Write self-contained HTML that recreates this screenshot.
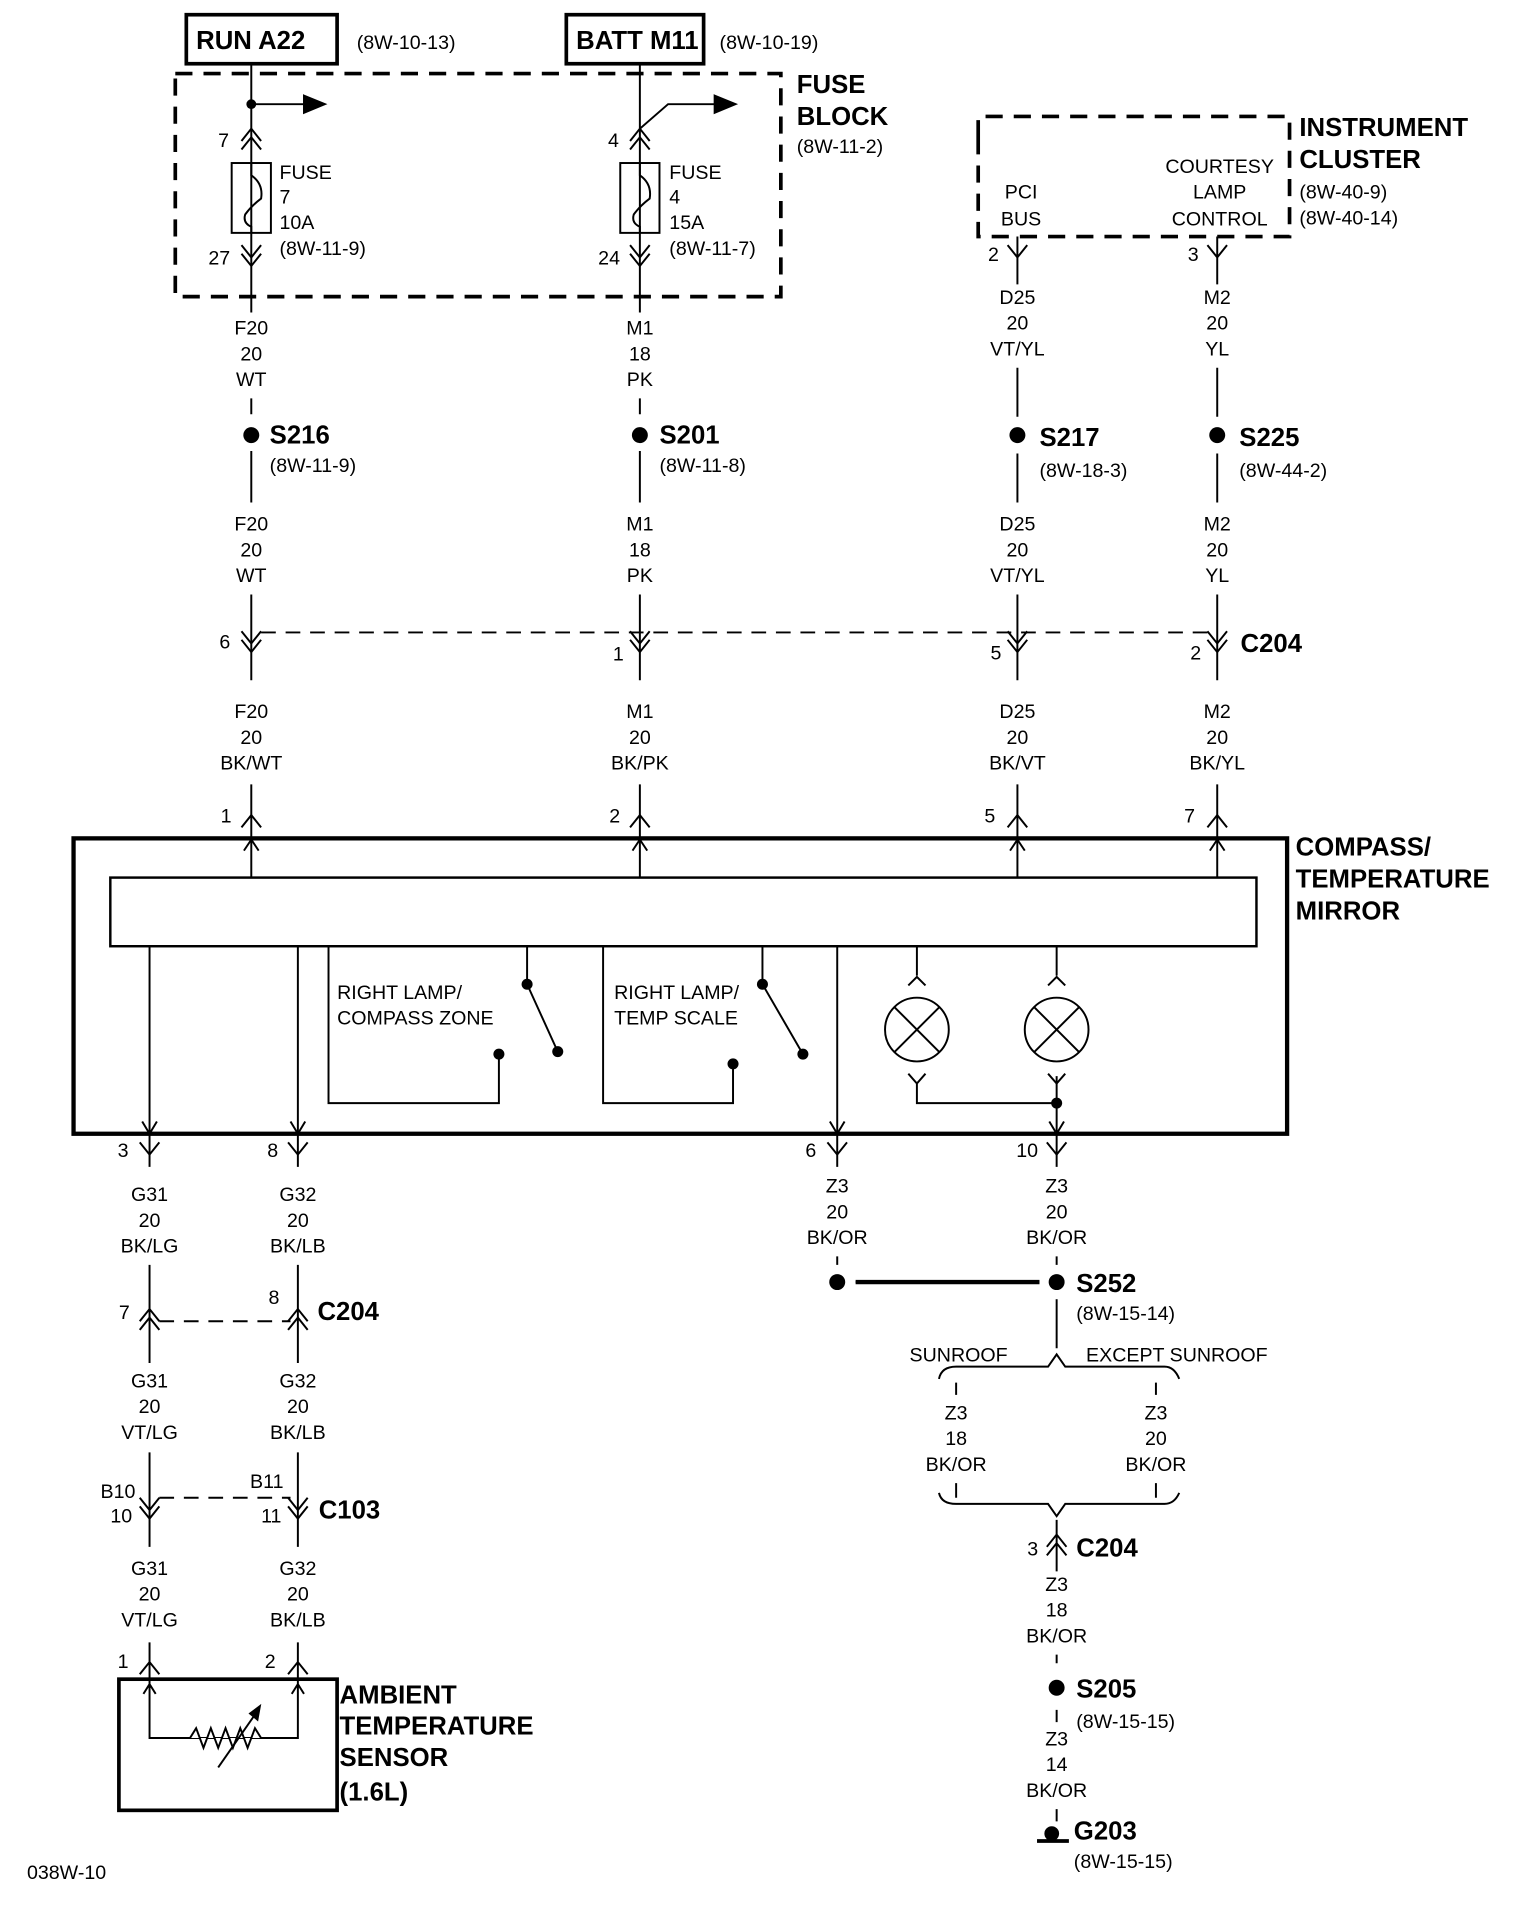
<!DOCTYPE html>
<html><head><meta charset="utf-8"><style>
html,body{margin:0;padding:0;background:#fff}
svg{display:block}
text{font-family:"Liberation Sans Narrow","Liberation Sans",sans-serif;font-size:16px;fill:#000}
.m{text-anchor:middle}
.b{font-weight:bold;font-size:21px}
</style></head><body>
<svg width="1520" height="1928" viewBox="0 0 1240 1573" preserveAspectRatio="none" xmlns="http://www.w3.org/2000/svg">
<g stroke="#000" stroke-width="1.6" fill="none">
<!-- top boxes -->
<rect x="152" y="12" width="123" height="40" stroke-width="3"/>
<rect x="462" y="12" width="112" height="40" stroke-width="3"/>
<rect x="143" y="60" width="494" height="182" stroke-width="3" stroke-dasharray="14,9"/>
<path d="M798 112 V95 H1052 V193 H798 V112" stroke-width="3" stroke-dasharray="14,9"/>
<!-- column A -->
<path d="M205 52 V255"/>
<path d="M205 85 H250"/><path d="M248 78 L265 85 L248 92 Z" fill="#000"/>
<path d="M197 115 L205 105 L213 115 M197 122 L205 112 L213 122"/>
<rect x="189" y="133" width="32" height="57"/>
<path d="M205 133 V143 Q215 150 213 162 Q205 168 200 175 Q198 182 205 185 V190"/>
<path d="M197 200 L205 210 L213 200 M197 207 L205 217 L213 207"/>
<!-- column B -->
<path d="M522 52 V105 L545 85 H585 M522 105 V255"/><path d="M583 78 L600 85 L583 92 Z" fill="#000"/>
<path d="M514 115 L522 105 L530 115 M514 122 L522 112 L530 122"/>
<rect x="506" y="133" width="32" height="57"/>
<path d="M522 133 V143 Q532 150 530 162 Q522 168 517 175 Q515 182 522 185 V190"/>
<path d="M514 200 L522 210 L530 200 M514 207 L522 217 L530 207"/>
<!-- ticks & splices top -->
<path d="M205 325 V338 M522 325 V338 M205 368 V410 M522 368 V410 M830 300 V340 M993 300 V340 M830 370 V410 M993 370 V410"/>
<path d="M830 193 V232 M822 200 L830 210 L838 200 M993 193 V232 M985 200 L993 210 L1001 200"/>
<!-- C204 row -->
<path d="M205 485 V555 M522 485 V555 M830 485 V555 M993 485 V555"/>
<path d="M197 515 L205 525 L213 515 M197 522 L205 532 L213 522 M514 515 L522 525 L530 515 M514 522 L522 532 L530 522 M822 515 L830 525 L838 515 M822 522 L830 532 L838 522 M985 515 L993 525 L1001 515 M985 522 L993 532 L1001 522"/>
<path d="M213 516 H985" stroke-dasharray="12,8"/>
<!-- to mirror -->
<path d="M205 640 V716 M522 640 V716 M830 640 V716 M993 640 V716"/>
<path d="M197 675 L205 665 L213 675 M514 675 L522 665 L530 675 M822 675 L830 665 L838 675 M985 675 L993 665 L1001 675"/>
<path d="M199 694 L205 685 L211 694 M516 694 L522 685 L528 694 M824 694 L830 685 L836 694 M987 694 L993 685 L999 694"/>
<!-- mirror -->
<rect x="60" y="684" width="990" height="241" stroke-width="3.5"/>
<rect x="90" y="716" width="935" height="56" stroke-width="2"/>
<path d="M122 772 V952 M243 772 V952 M683 772 V952 M862 878 V952"/>
<path d="M116 915 L122 925 L128 915 M237 915 L243 925 L249 915 M677 915 L683 925 L689 915 M856 915 L862 925 L868 915"/>
<path d="M268 772 V900 H407 V860 M430 772 V803 L455 858"/>
<path d="M492 772 V900 H598 V868 M622 772 V803 L655 860"/>
<path d="M748 772 V796 M862 772 V796 M741 804 L748 797 L755 804 M855 804 L862 797 L869 804"/>
<circle cx="748" cy="840" r="26"/><circle cx="862" cy="840" r="26"/>
<path d="M730 822 L766 858 M766 822 L730 858 M844 822 L880 858 M880 822 L844 858"/>
<path d="M741 876 L748 884 L755 876 M855 876 L862 884 L869 876 M748 884 V900 H862"/>
<!-- bottom connectors -->
<path d="M114 932 L122 942 L130 932 M235 932 L243 942 L251 932 M675 932 L683 942 L691 932 M854 932 L862 942 L870 932"/>
<path d="M122 1032 V1112 M243 1032 V1112"/>
<path d="M114 1078 L122 1068 L130 1078 M114 1085 L122 1075 L130 1085 M235 1078 L243 1068 L251 1078 M235 1085 L243 1075 L251 1085"/>
<path d="M130 1078 H237" stroke-dasharray="12,8"/>
<path d="M122 1185 V1262 M243 1185 V1262"/>
<path d="M114 1222 L122 1232 L130 1222 M114 1229 L122 1239 L130 1229 M235 1222 L243 1232 L251 1222 M235 1229 L243 1239 L251 1229"/>
<path d="M130 1222 H237" stroke-dasharray="12,8"/>
<path d="M122 1340 V1418 H243 V1340 M114 1366 L122 1356 L130 1366 M235 1366 L243 1356 L251 1366 M117 1382 L122 1374 L127 1382 M238 1382 L243 1374 L248 1382"/>
<path d="M122 1418 H155 L160 1410 L166 1426 L172 1410 L178 1426 L184 1410 L190 1426 L196 1410 L202 1426 L208 1410 L213 1418 H243" fill="#fff"/>
<path d="M122 1418 H155 M213 1418 H243"/>
<path d="M178 1442 L210 1396"/><path d="M204 1398 L212 1392 L210 1403 Z" fill="#000"/>
<rect x="97" y="1370" width="178" height="107" stroke-width="3"/>
<!-- right bottom -->
<path d="M683 1025 V1032 M862 1025 V1032 M698 1046 H848" />
<path d="M698 1046 H848" stroke-width="3.5"/>
<path d="M862 1060 V1100"/>
<path d="M766 1125 Q768 1115 780 1115 H855 L862 1105 L869 1115 H950 Q958 1115 962 1125"/>
<path d="M780 1128 V1138 M943 1128 V1138 M780 1210 V1222 M943 1210 V1222"/>
<path d="M766 1218 Q768 1227 780 1227 H855 L862 1237 L869 1227 H950 Q958 1227 962 1218"/>
<path d="M862 1240 V1282 M854 1262 L862 1252 L870 1262 M854 1269 L862 1259 L870 1269"/>
<path d="M862 1350 V1357 M862 1395 V1405 M862 1476 V1486"/>
<path d="M846 1502 H872" stroke-width="3"/>
</g>
<g fill="#000">
<circle cx="205" cy="85" r="4"/>
<circle cx="205" cy="355" r="6.5"/><circle cx="522" cy="355" r="6.5"/><circle cx="830" cy="355" r="6.5"/><circle cx="993" cy="355" r="6.5"/>
<circle cx="430" cy="803" r="4.5"/><circle cx="455" cy="858" r="4.5"/><circle cx="407" cy="860" r="4.5"/>
<circle cx="622" cy="803" r="4.5"/><circle cx="655" cy="860" r="4.5"/><circle cx="598" cy="868" r="4.5"/>
<circle cx="862" cy="900" r="4.5"/>
<circle cx="683" cy="1046" r="6.5"/><circle cx="862" cy="1046" r="6.5"/>
<circle cx="862" cy="1377" r="6.5"/><circle cx="858" cy="1496" r="6"/>
</g>
<text x="160" y="40" class="b">RUN A22</text><text x="291" y="40">(8W-10-13)</text>
<text x="470" y="40" class="b">BATT M11</text><text x="587" y="40">(8W-10-19)</text>
<text x="650" y="76" class="b">FUSE</text><text x="650" y="102" class="b">BLOCK</text><text x="650" y="125">(8W-11-2)</text>
<text x="178" y="120">7</text><text x="496" y="120">4</text>
<text x="228" y="146">FUSE</text><text x="228" y="166">7</text><text x="228" y="187">10A</text><text x="228" y="208">(8W-11-9)</text>
<text x="546" y="146">FUSE</text><text x="546" y="166">4</text><text x="546" y="187">15A</text><text x="546" y="208">(8W-11-7)</text>
<text x="170" y="216">27</text><text x="488" y="216">24</text>
<text x="1060" y="111" class="b">INSTRUMENT</text><text x="1060" y="137" class="b">CLUSTER</text>
<text x="1060" y="162">(8W-40-9)</text><text x="1060" y="183">(8W-40-14)</text>
<text x="833" y="162" class="m">PCI</text><text x="833" y="184" class="m">BUS</text>
<text x="995" y="141" class="m">COURTESY</text><text x="995" y="162" class="m">LAMP</text><text x="995" y="184" class="m">CONTROL</text>
<text x="806" y="213">2</text><text x="969" y="213">3</text>
<g class="m">
<text x="205" y="273" class="m">F20</text><text x="205" y="294" class="m">20</text><text x="205" y="315" class="m">WT</text>
<text x="522" y="273" class="m">M1</text><text x="522" y="294" class="m">18</text><text x="522" y="315" class="m">PK</text>
<text x="830" y="248" class="m">D25</text><text x="830" y="269" class="m">20</text><text x="830" y="290" class="m">VT/YL</text>
<text x="993" y="248" class="m">M2</text><text x="993" y="269" class="m">20</text><text x="993" y="290" class="m">YL</text>
<text x="205" y="433" class="m">F20</text><text x="205" y="454" class="m">20</text><text x="205" y="475" class="m">WT</text>
<text x="522" y="433" class="m">M1</text><text x="522" y="454" class="m">18</text><text x="522" y="475" class="m">PK</text>
<text x="830" y="433" class="m">D25</text><text x="830" y="454" class="m">20</text><text x="830" y="475" class="m">VT/YL</text>
<text x="993" y="433" class="m">M2</text><text x="993" y="454" class="m">20</text><text x="993" y="475" class="m">YL</text>
<text x="205" y="586" class="m">F20</text><text x="205" y="607" class="m">20</text><text x="205" y="628" class="m">BK/WT</text>
<text x="522" y="586" class="m">M1</text><text x="522" y="607" class="m">20</text><text x="522" y="628" class="m">BK/PK</text>
<text x="830" y="586" class="m">D25</text><text x="830" y="607" class="m">20</text><text x="830" y="628" class="m">BK/VT</text>
<text x="993" y="586" class="m">M2</text><text x="993" y="607" class="m">20</text><text x="993" y="628" class="m">BK/YL</text>
</g>
<text x="220" y="362" class="b">S216</text><text x="220" y="385">(8W-11-9)</text>
<text x="538" y="362" class="b">S201</text><text x="538" y="385">(8W-11-8)</text>
<text x="848" y="364" class="b">S217</text><text x="848" y="389">(8W-18-3)</text>
<text x="1011" y="364" class="b">S225</text><text x="1011" y="389">(8W-44-2)</text>
<text x="179" y="529">6</text><text x="500" y="539">1</text><text x="808" y="538">5</text><text x="971" y="538">2</text>
<text x="1012" y="532" class="b">C204</text>
<text x="180" y="671">1</text><text x="497" y="671">2</text><text x="803" y="671">5</text><text x="966" y="671">7</text>
<text x="1057" y="698" class="b">COMPASS/</text><text x="1057" y="724" class="b">TEMPERATURE</text><text x="1057" y="750" class="b">MIRROR</text>
<text x="275" y="815">RIGHT LAMP/</text><text x="275" y="836">COMPASS ZONE</text>
<text x="501" y="815">RIGHT LAMP/</text><text x="501" y="836">TEMP SCALE</text>
<text x="96" y="944">3</text><text x="218" y="944">8</text><text x="657" y="944">6</text><text x="829" y="944">10</text>
<text x="122" y="980" class="m">G31</text><text x="122" y="1001" class="m">20</text><text x="122" y="1022" class="m">BK/LG</text>
<text x="243" y="980" class="m">G32</text><text x="243" y="1001" class="m">20</text><text x="243" y="1022" class="m">BK/LB</text>
<text x="683" y="973" class="m">Z3</text><text x="683" y="994" class="m">20</text><text x="683" y="1015" class="m">BK/OR</text>
<text x="862" y="973" class="m">Z3</text><text x="862" y="994" class="m">20</text><text x="862" y="1015" class="m">BK/OR</text>
<text x="97" y="1076">7</text><text x="219" y="1064">8</text><text x="259" y="1077" class="b">C204</text>
<text x="122" y="1132" class="m">G31</text><text x="122" y="1153" class="m">20</text><text x="122" y="1174" class="m">VT/LG</text>
<text x="243" y="1132" class="m">G32</text><text x="243" y="1153" class="m">20</text><text x="243" y="1174" class="m">BK/LB</text>
<text x="82" y="1222">B10</text><text x="90" y="1242">10</text><text x="204" y="1214">B11</text><text x="213" y="1242">11</text>
<text x="260" y="1239" class="b">C103</text>
<text x="122" y="1285" class="m">G31</text><text x="122" y="1306" class="m">20</text><text x="122" y="1327" class="m">VT/LG</text>
<text x="243" y="1285" class="m">G32</text><text x="243" y="1306" class="m">20</text><text x="243" y="1327" class="m">BK/LB</text>
<text x="96" y="1361">1</text><text x="216" y="1361">2</text>
<text x="277" y="1390" class="b">AMBIENT</text><text x="277" y="1415" class="b">TEMPERATURE</text><text x="277" y="1441" class="b">SENSOR</text><text x="277" y="1469" class="b">(1.6L)</text>
<text x="22" y="1533">038W-10</text>
<text x="878" y="1054" class="b">S252</text><text x="878" y="1077">(8W-15-14)</text>
<text x="742" y="1111">SUNROOF</text><text x="886" y="1111">EXCEPT SUNROOF</text>
<text x="780" y="1158" class="m">Z3</text><text x="780" y="1179" class="m">18</text><text x="780" y="1200" class="m">BK/OR</text>
<text x="943" y="1158" class="m">Z3</text><text x="943" y="1179" class="m">20</text><text x="943" y="1200" class="m">BK/OR</text>
<text x="838" y="1269">3</text><text x="878" y="1270" class="b">C204</text>
<text x="862" y="1298" class="m">Z3</text><text x="862" y="1319" class="m">18</text><text x="862" y="1340" class="m">BK/OR</text>
<text x="878" y="1385" class="b">S205</text><text x="878" y="1410">(8W-15-15)</text>
<text x="862" y="1424" class="m">Z3</text><text x="862" y="1445" class="m">14</text><text x="862" y="1466" class="m">BK/OR</text>
<text x="876" y="1501" class="b">G203</text><text x="876" y="1524">(8W-15-15)</text>
</svg>
</body></html>
